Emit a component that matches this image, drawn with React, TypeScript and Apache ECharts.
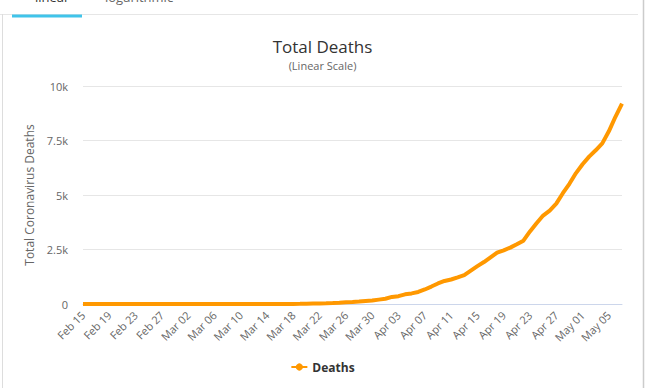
import React, { useEffect, useRef } from "react";
import * as echarts from "echarts";

const START_DATE = "2020-02-15";
const DAY_COUNT = 83;
const MONTHS = ["Jan", "Feb", "Mar", "Apr", "May", "Jun", "Jul", "Aug", "Sep", "Oct", "Nov", "Dec"];

const deaths: number[] = [
  // Feb 15 – Feb 29
  0, 0, 0, 0, 0, 0, 0, 0, 0, 0, 0, 0, 0, 0, 0,
  // Mar 01 – Mar 16
  0, 0, 0, 0, 0, 0, 0, 0, 0, 0, 0, 0, 0, 0, 0, 0,
  // Mar 17 – Mar 31
  1, 4, 7, 11, 18, 25, 34, 46, 59, 77, 92, 111, 136, 159, 201,
  // Apr 01 – Apr 30
  240, 324, 359, 445, 486, 553, 667, 800, 941, 1056, 1124, 1223, 1328, 1532, 1736,
  1924, 2141, 2354, 2462, 2587, 2741, 2906, 3331, 3704, 4057, 4286, 4603, 5083, 5513, 6006,
  // May 01 – May 07
  6412, 6761, 7051, 7367, 7921, 8588, 9190,
];

const yTicks = [0, 2500, 5000, 7500, 10000];
const yTickLabels = ["0", "2.5k", "5k", "7.5k", "10k"];

function buildDates(): string[] {
  const out: string[] = [];
  const d = new Date(START_DATE + "T12:00:00Z");
  for (let i = 0; i < DAY_COUNT; i++) {
    const dd = String(d.getUTCDate()).padStart(2, "0");
    out.push(`${MONTHS[d.getUTCMonth()]} ${dd}`);
    d.setUTCDate(d.getUTCDate() + 1);
  }
  return out;
}

const FONT = "'Open Sans', 'DejaVu Sans', sans-serif";

export default function App() {
  const ref = useRef<HTMLDivElement>(null);
  useEffect(() => {
    if (!ref.current) return;
    const chart = echarts.init(ref.current, undefined, { renderer: "svg" });
    const dates = buildDates();
    chart.setOption({
      animation: false,
      backgroundColor: "#ffffff",
      textStyle: { fontFamily: FONT },
      title: {
        text: "Total Deaths",
        subtext: "(Linear Scale)",
        left: "center",
        top: 33,
        itemGap: 5,
        textStyle: { fontSize: 17, fontWeight: "normal", color: "#333333", fontFamily: FONT },
        subtextStyle: { fontSize: 11, color: "#666666", fontFamily: FONT },
      },
      legend: {
        bottom: 10,
        left: "center",
        itemWidth: 16,
        itemHeight: 9,
        itemGap: 6,
        textStyle: { fontSize: 12, fontWeight: "bold", color: "#333333", fontFamily: FONT },
        data: ["Deaths"],
      },
      grid: { left: 83, right: 23, top: 86, bottom: 84 },
      xAxis: {
        type: "category",
        data: dates,
        boundaryGap: false,
        axisLine: { lineStyle: { color: "#ccd6eb" } },
        axisTick: { show: false },
        axisLabel: {
          interval: 3,
          rotate: 45,
          margin: 9,
          fontSize: 11,
          color: "#666666",
          fontFamily: FONT,
        },
      },
      yAxis: {
        type: "value",
        min: 0,
        max: 10000,
        interval: 2500,
        name: "Total Coronavirus Deaths",
        nameLocation: "middle",
        nameGap: 47,
        nameTextStyle: { fontSize: 12, color: "#666666", fontFamily: FONT },
        axisLine: { show: false },
        axisTick: { show: false },
        splitLine: { lineStyle: { color: "#e6e6e6" } },
        axisLabel: {
          margin: 15,
          fontSize: 11,
          color: "#666666",
          fontFamily: FONT,
          formatter: (v: number) => {
            const i = yTicks.indexOf(v);
            return i >= 0 ? yTickLabels[i] : String(v);
          },
        },
      },
      series: [
        {
          name: "Deaths",
          type: "line",
          data: deaths,
          symbol: "circle",
          symbolSize: 7,
          showSymbol: false,
          color: "#FF9800",
          lineStyle: { width: 4, color: "#FF9800" },
        },
      ],
      graphic: [
        { type: "line", shape: { x1: 0, y1: 14.5, x2: 638, y2: 14.5 }, style: { stroke: "#e6e6e6", lineWidth: 1 } },
        { type: "line", shape: { x1: 2.5, y1: 14, x2: 2.5, y2: 388 }, style: { stroke: "#dddddd", lineWidth: 1 } },
        { type: "line", shape: { x1: 643.5, y1: 0, x2: 643.5, y2: 388 }, style: { stroke: "#cccccc", lineWidth: 1.5 } },
        { type: "rect", shape: { x: 12, y: 14.5, width: 70, height: 3 }, style: { fill: "#40c4ea" } },
        {
          type: "text",
          x: 35,
          y: -3,
          style: { text: "linear", fontSize: 13, fill: "#333333", fontFamily: FONT, verticalAlign: "middle" },
        },
        {
          type: "text",
          x: 105,
          y: -3,
          style: { text: "logarithmic", fontSize: 13, fill: "#666666", fontFamily: FONT, verticalAlign: "middle" },
        },
      ],
    });
    return () => chart.dispose();
  }, []);
  return (
    <div
      ref={ref}
      style={{ position: "absolute", left: 0, top: 0, width: 645, height: 388 }}
    />
  );
}
